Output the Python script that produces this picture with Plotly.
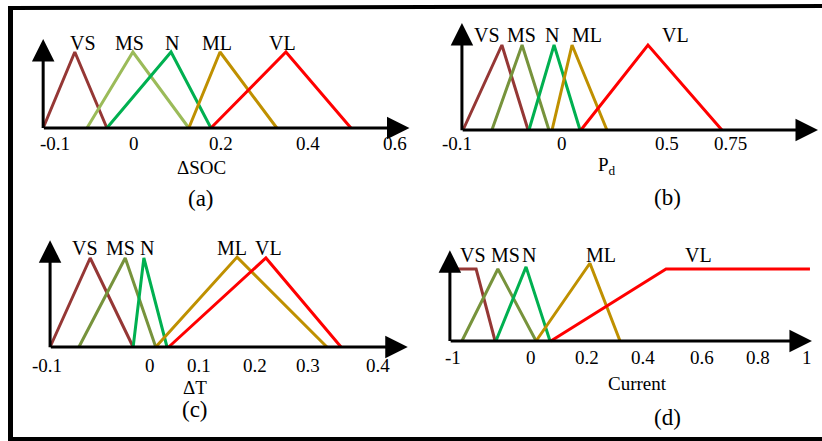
import plotly.graph_objects as go

W, H = 822, 441
FONT = "Liberation Serif"

# ---------------- data (membership-function breakpoints, in axis units) -------------
mf_names = ["VS", "MS", "N", "ML", "VL"]

# (a) ΔSOC
a_x = {
    "VS": [-0.210, -0.137, -0.063],
    "MS": [-0.109, -0.003, 0.126],
    "N":  [-0.063, 0.085, 0.177],
    "ML": [0.126, 0.198, 0.329],
    "VL": [0.177, 0.350, 0.500],
}
a_y = {k: [0, 1, 0] for k in mf_names}
a_ticks = ["-0.1", "0", "0.2", "0.4", "0.6"]
a_tickpos = [-0.183, 0.0, 0.2, 0.4, 0.602]

# (b) Pd
b_x = {
    "VS": [-0.439, -0.264, -0.146],
    "MS": [-0.309, -0.173, -0.052],
    "N":  [-0.142, -0.029, 0.088],
    "ML": [-0.038, 0.052, 0.209],
    "VL": [0.092, 0.394, 0.727],
}
b_y = {k: [0, 1, 0] for k in mf_names}
b_ticks = ["-0.1", "0", "0.5", "0.75"]
b_tickpos = [-0.466, 0.007, 0.48, 0.764]

# (c) ΔT
c_x = {
    "VS": [-0.168, -0.097, -0.021],
    "MS": [-0.117, -0.035, 0.019],
    "N":  [-0.021, -0.002, 0.039],
    "ML": [0.019, 0.163, 0.322],
    "VL": [0.042, 0.214, 0.347],
}
c_y = {k: [0, 1, 0] for k in mf_names}
c_y["ML"] = [0, 1.01, 0]
c_ticks = ["-0.1", "0", "0.1", "0.2", "0.3", "0.4"]
c_tickpos = [-0.173, 0.009, 0.096, 0.195, 0.288, 0.412]

# (d) Current
d_x = {
    "VS": [-0.294, -0.200, -0.132],
    "MS": [-0.251, -0.122, 0.015],
    "N":  [-0.129, -0.021, 0.065],
    "ML": [0.015, 0.208, 0.316],
    "VL": [0.068, 0.481, 0.997],
}
d_y = {
    "VS": [1, 1, 0],
    "MS": [0, 1, 0],
    "N":  [0, 1.03, 0],
    "ML": [0, 1.08, 0],
    "VL": [0, 1, 1],
}
d_ticks = ["-1", "0", "0.2", "0.4", "0.6", "0.8", "1"]
d_tickpos = [-0.283, -0.003, 0.198, 0.398, 0.609, 0.81, 0.987]

colors_a = {"VS": "#953735", "MS": "#9BBB59", "N": "#00B050", "ML": "#BF9000", "VL": "#FF0000"}
colors_o = {"VS": "#953735", "MS": "#77933C", "N": "#00B050", "ML": "#BF9000", "VL": "#FF0000"}

# ---------------- layout geometry (pixels) -----------------
panels = [
    dict(key="", box=(20, 420, 15, 220), a=134.2, b=433.5, base=128, h=76,
         xs=a_x, ys=a_y, cols=colors_a, ticks=a_ticks, tickpos=a_tickpos,
         axis=(-0.210, 0.635, 1.17), lab=(43, {"VS": -0.118, "MS": -0.01, "N": 0.087, "ML": 0.19, "VL": 0.343}),
         tick_y=144, title="ΔSOC", title_x=0.155, title_y=167, plab="(a)", plab_x=0.155, plab_y=198),
    dict(key="2", box=(425, 822, 15, 220), a=560.5, b=222, base=130, h=85,
         xs=b_x, ys=b_y, cols=colors_o, ticks=b_ticks, tickpos=b_tickpos,
         axis=(-0.444, 1.16, 1.26), lab=(35, {"VS": -0.331, "MS": -0.174, "N": -0.039, "ML": 0.119, "VL": 0.516}),
         tick_y=144, title="P<sub>d</sub>", title_x=0.210, title_y=166, plab="(b)", plab_x=0.484, plab_y=197),
    dict(key="3", box=(20, 420, 225, 436), a=145, b=565, base=347, h=89,
         xs=c_x, ys=c_y, cols=colors_o, ticks=c_ticks, tickpos=c_tickpos,
         axis=(-0.168, 0.465, 1.2), lab=(248, {"VS": -0.106, "MS": -0.044, "N": 0.003, "ML": 0.154, "VL": 0.218}),
         tick_y=365, title="ΔT", title_x=0.088, title_y=387, plab="(c)", plab_x=0.088, plab_y=409),
    dict(key="4", box=(425, 822, 225, 436), a=531.9, b=278.9, base=341, h=72,
         xs=d_x, ys=d_y, cols=colors_o, ticks=d_ticks, tickpos=d_tickpos,
         axis=(-0.294, 1.004, 1.26), lab=(255, {"VS": -0.211, "MS": -0.096, "N": -0.011, "ML": 0.248, "VL": 0.599}),
         tick_y=357, title="Current", title_x=0.377, title_y=383, plab="(d)", plab_x=0.485, plab_y=417),
]

fig = go.Figure()
annotations = []
layout_axes = {}

def py2paper(py):
    return 1 - py / H

for p in panels:
    k = p["key"]
    xr, yr = "x" + k, "y" + k
    x0, x1, ytop, ybot = p["box"]
    a, b, base, h = p["a"], p["b"], p["base"], p["h"]
    layout_axes["xaxis" + k] = dict(domain=[x0 / W, x1 / W], range=[(x0 - a) / b, (x1 - a) / b],
                                    visible=False, anchor=yr, fixedrange=True)
    layout_axes["yaxis" + k] = dict(domain=[py2paper(ybot), py2paper(ytop)],
                                    range=[(base - ybot) / h, (base - ytop) / h],
                                    visible=False, anchor=xr, fixedrange=True)
    for name in mf_names:
        fig.add_trace(go.Scatter(x=p["xs"][name], y=p["ys"][name], mode="lines",
                                 line=dict(color=p["cols"][name], width=3),
                                 xaxis=xr, yaxis=yr, showlegend=False, hoverinfo="skip"))
    xs0, xtip, ytip = p["axis"]
    annotations.append(dict(x=xtip, y=0, ax=xs0 - 0.002 * (xtip - xs0), ay=0, xref=xr, yref=yr, axref=xr, ayref=yr,
                            text="", showarrow=True, arrowhead=2, arrowsize=1.5, arrowwidth=3, arrowcolor="black"))
    annotations.append(dict(x=xs0, y=ytip, ax=xs0, ay=-0.02, xref=xr, yref=yr, axref=xr, ayref=yr,
                            text="", showarrow=True, arrowhead=2, arrowsize=1.5, arrowwidth=3, arrowcolor="black"))
    lab_y, lab_xs = p["lab"]
    for name in mf_names:
        annotations.append(dict(x=lab_xs[name], y=py2paper(lab_y), xref=xr, yref="paper", text=name,
                                showarrow=False, font=dict(family=FONT, size=20, color="black"),
                                xanchor="center", yanchor="middle"))
    for t, tp in zip(p["ticks"], p["tickpos"]):
        annotations.append(dict(x=tp, y=py2paper(p["tick_y"]), xref=xr, yref="paper", text=t,
                                showarrow=False, font=dict(family=FONT, size=19, color="black"),
                                xanchor="center", yanchor="middle"))
    annotations.append(dict(x=p["title_x"], y=py2paper(p["title_y"]), xref=xr, yref="paper", text=p["title"],
                            showarrow=False, font=dict(family=FONT, size=19, color="black"),
                            xanchor="center", yanchor="middle"))
    annotations.append(dict(x=p["plab_x"], y=py2paper(p["plab_y"]), xref=xr, yref="paper", text=p["plab"],
                            showarrow=False, font=dict(family=FONT, size=23, color="black"),
                            xanchor="center", yanchor="middle"))

shapes = [
    dict(type="line", xref="paper", yref="paper", x0=10.5 / W, x1=10.5 / W, y0=0, y1=py2paper(6),
         line=dict(color="black", width=5)),
    dict(type="line", xref="paper", yref="paper", x0=8 / W, x1=1, y0=py2paper(8), y1=py2paper(6),
         line=dict(color="black", width=4)),
    dict(type="line", xref="paper", yref="paper", x0=8 / W, x1=1, y0=py2paper(439), y1=py2paper(439),
         line=dict(color="black", width=4)),
]

fig.update_layout(width=W, height=H, margin=dict(l=0, r=0, t=0, b=0),
                  paper_bgcolor="white", plot_bgcolor="rgba(0,0,0,0)",
                  annotations=annotations, shapes=shapes, showlegend=False, **layout_axes)

fig.write_html("out.html", config={"displayModeBar": False},
               post_script="document.body.style.margin='0px';document.body.style.overflow='hidden';")
